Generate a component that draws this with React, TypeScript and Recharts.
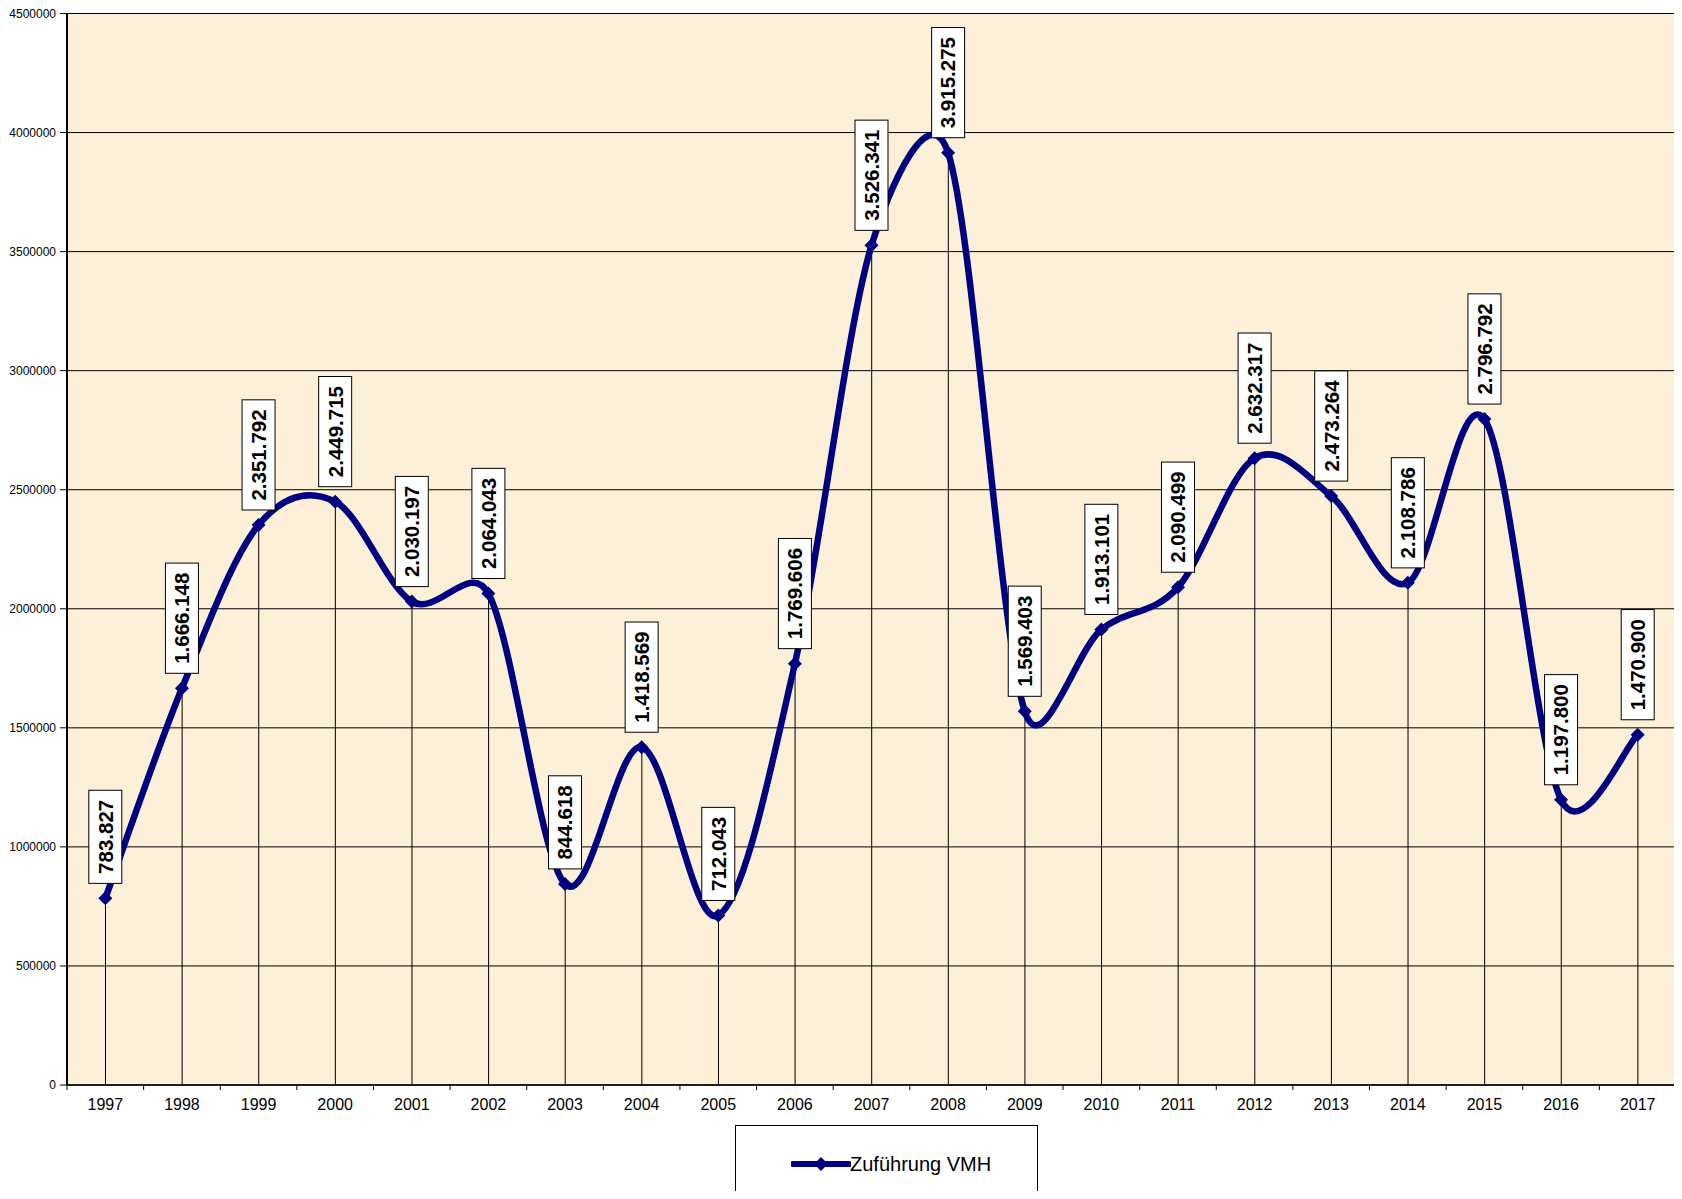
import React from 'react';
import { ComposedChart, Line, Bar, XAxis, YAxis, CartesianGrid, LabelList, Legend } from 'recharts';

const years = ['1997','1998','1999','2000','2001','2002','2003','2004','2005','2006','2007','2008','2009','2010','2011','2012','2013','2014','2015','2016','2017'];
const values = [783827,1666148,2351792,2449715,2030197,2064043,844618,1418569,712043,1769606,3526341,3915275,1569403,1913101,2090499,2632317,2473264,2108786,2796792,1197800,1470900];
const yTicks = [0,500000,1000000,1500000,2000000,2500000,3000000,3500000,4000000,4500000];
const seriesName = 'Zuführung VMH';

const data = years.map((y, i) => ({ year: y, value: values[i] }));

const FONT = '"Liberation Sans", Arial, sans-serif';
const NAVY = '#000080';

function fmt(v: number): string {
  return String(v).replace(/\B(?=(\d{3})+(?!\d))/g, '.');
}

function dist(a: number[], b: number[]) {
  return Math.hypot(b[0] - a[0], b[1] - a[1]);
}

// Excel-like smoothed line: Bezier with tension 1/6, limited by segment length ratio
function excelCurve(context: any) {
  let pts: number[][] = [];
  return {
    areaStart() {},
    areaEnd() {},
    lineStart() { pts = []; },
    point(x: number, y: number) { pts.push([+x, +y]); },
    lineEnd() {
      const n = pts.length;
      if (!n) return;
      context.moveTo(pts[0][0], pts[0][1]);
      for (let i = 0; i < n - 1; i++) {
        const p0 = pts[i - 1] || pts[i];
        const p1 = pts[i];
        const p2 = pts[i + 1];
        const p3 = pts[i + 2] || pts[i + 1];
        const d12 = dist(p1, p2);
        const d02 = dist(p0, p2);
        const d13 = dist(p1, p3);
        let f1 = 1 / 6;
        let f2 = 1 / 6;
        if (d02 > 0) f1 = Math.min(f1, (0.5 * d12) / d02);
        if (d13 > 0) f2 = Math.min(f2, (0.5 * d12) / d13);
        context.bezierCurveTo(
          p1[0] + (p2[0] - p0[0]) * f1, p1[1] + (p2[1] - p0[1]) * f1,
          p2[0] - (p3[0] - p1[0]) * f2, p2[1] - (p3[1] - p1[1]) * f2,
          p2[0], p2[1]
        );
      }
    },
  };
}

const Diamond = (props: any) => {
  const { cx, cy } = props;
  if (cx == null || cy == null) return null;
  const r = 7;
  return <polygon points={`${cx},${cy - r} ${cx + r},${cy} ${cx},${cy + r} ${cx - r},${cy}`} fill={NAVY} />;
};

const LabelBox = (props: any) => {
  const { x, y, value } = props;
  if (x == null || y == null) return null;
  const s = fmt(value);
  const fs = 20.5;
  let len = 0;
  for (const ch of s) len += ch === '.' ? 0.278 : 0.556;
  const textLen = len * fs;
  const h = textLen + 19;
  const w = 33;
  const bottom = y - 15;
  const cy = bottom - h / 2;
  return (
    <g>
      <rect x={x - w / 2} y={bottom - h} width={w} height={h} fill="#fff" stroke="#000" strokeWidth={1} />
      <text x={x} y={cy} transform={`rotate(-90 ${x} ${cy})`} textAnchor="middle" dy="0.36em"
        fontFamily={FONT} fontWeight="bold" fontSize={fs} fill="#000">{s}</text>
    </g>
  );
};

const XTick = (props: any) => {
  const { x, y, payload, index, visibleTicksCount, width } = props;
  const count = visibleTicksCount || years.length;
  const half = ((width || 1609) / count) / 2;
  return (
    <g>
      <line x1={x - half} y1={y} x2={x - half} y2={y + 5} stroke="#000" strokeWidth={1} />
      {index === count - 1 && <line x1={x + half} y1={y} x2={x + half} y2={y + 5} stroke="#000" strokeWidth={1} />}
      <text x={x} y={y + 25} textAnchor="middle" fontFamily={FONT} fontSize={16} fill="#000">{payload.value}</text>
    </g>
  );
};

const LegendContent = () => (
  <div style={{ position: 'relative', width: '100%', height: '100%', boxSizing: 'border-box', border: '1px solid #000', background: '#fff' }}>
    <svg width={60} height={16} style={{ position: 'absolute', left: 55, top: 30 }}>
      <line x1={2} y1={8} x2={58} y2={8} stroke={NAVY} strokeWidth={6} strokeLinecap="round" />
      <polygon points="30,1 37,8 30,15 23,8" fill={NAVY} />
    </svg>
    <span style={{ position: 'absolute', left: 114, top: 25, fontFamily: FONT, fontSize: 20, color: '#000', whiteSpace: 'nowrap', lineHeight: '26px' }}>{seriesName}</span>
  </div>
);

export default function App() {
  return (
    <div style={{ width: 1674, height: 1191, marginBottom: -8, overflow: 'hidden', position: 'relative' }}>
      <ComposedChart width={1674} height={1191} data={data} margin={{ top: 5.5, right: 6, bottom: 84, left: 0 }}>
        <CartesianGrid horizontal vertical={false} stroke="#000" strokeWidth={1} fill="#FCF0D8" fillOpacity={1} />
        <XAxis dataKey="year" type="category" axisLine={{ stroke: '#000', strokeWidth: 1.5 }} tickLine={false} tickSize={0} tickMargin={0} height={30} tick={<XTick />} interval={0} />
        <XAxis xAxisId="top" dataKey="year" orientation="top" height={0} tick={false} tickLine={false} axisLine={{ stroke: '#8a8a8a', strokeWidth: 2.5 }} />
        <YAxis domain={[0, 4500000]} ticks={yTicks} interval={0} width={59} axisLine={{ stroke: '#000', strokeWidth: 2 }} tickLine={{ stroke: '#000' }} tickSize={7} tickMargin={4}
          tick={{ fontFamily: FONT, fontSize: 12, fill: '#000' }} />
        <YAxis yAxisId="right" orientation="right" domain={[0, 4500000]} width={0} tick={false} tickLine={false} axisLine={{ stroke: '#8a8a8a', strokeWidth: 3 }} />
        <Bar dataKey="value" barSize={1} fill="#000" isAnimationActive={false} legendType="none" />
        <Line dataKey="value" name={seriesName} type={excelCurve as any} stroke={NAVY} strokeWidth={6.5} dot={<Diamond />} activeDot={false} isAnimationActive={false}>
          <LabelList dataKey="value" content={<LabelBox />} />
        </Line>
        <Legend layout="horizontal" verticalAlign="middle" align="center" content={<LegendContent />}
          wrapperStyle={{ left: 727, top: 1117, width: 303, height: 100, right: 'auto', bottom: 'auto' }} />
      </ComposedChart>
    </div>
  );
}
